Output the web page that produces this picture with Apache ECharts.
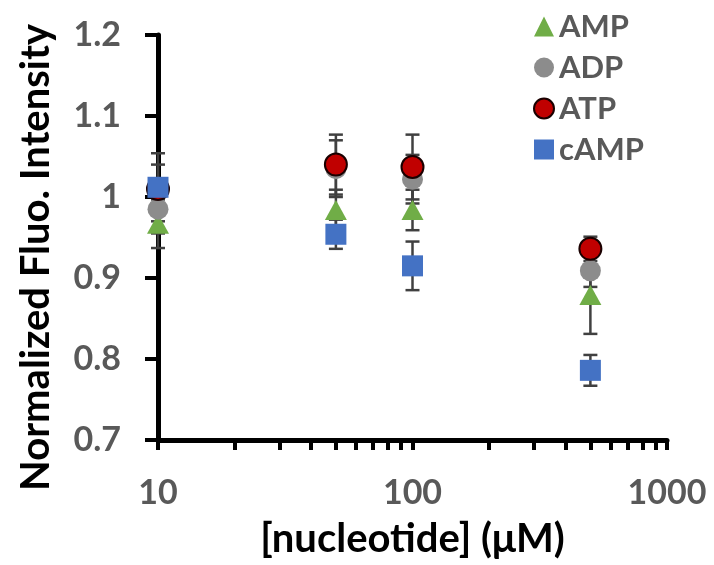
<!DOCTYPE html>
<html>
<head>
<meta charset="utf-8">
<script src="https://cdn.jsdelivr.net/npm/echarts@6/dist/echarts.min.js"></script>
<style>
html,body{margin:0;padding:0;background:#fff;}
#chart{width:714px;height:565px;}
</style>
</head>
<body>
<div id="chart"></div>
<script>
// 浓度 (μM)
var conc = [10, 50, 100, 500];
// 各核苷酸的归一化荧光强度
var ampVal  = [0.967, 0.984, 0.984, 0.879];
var ampErr  = [0.030, 0.025, 0.025, 0.048];
var adpVal  = [0.985, 1.035, 1.022, 0.909];
var adpErr  = [0.030, 0.035, 0.030, 0.020];
var atpVal  = [1.010, 1.040, 1.037, 0.936];
var atpErr  = [0.030, 0.037, 0.040, 0.015];
var campVal = [1.012, 0.954, 0.915, 0.786];
var campErr = [0.042, 0.018, 0.030, 0.019];
var xTicks = [10,20,30,40,50,60,70,80,90,100,200,300,400,500,600,700,800,900,1000];
var xLabels = [10, 100, 1000];

var font = 'Lato';
var myChart = echarts.init(document.getElementById('chart'));

function pts(vals){
	var out=[];
	for(var i=0;i<conc.length;i++){ out.push([conc[i], vals[i]]); }
	return out;
}
function errData(vals, errs){
	var out=[];
	for(var i=0;i<conc.length;i++){ out.push([conc[i], vals[i]-errs[i], vals[i]+errs[i]]); }
	return out;
}
// 误差棒
function errSeries(vals, errs){
	return {
		type:'custom',
		z:1,
		silent:true,
		data:errData(vals, errs),
		renderItem:function(params, api){
			var lo=api.coord([api.value(0), api.value(1)]);
			var hi=api.coord([api.value(0), api.value(2)]);
			var w=7;
			var st={stroke:'#404040', lineWidth:2.5};
			return {type:'group', children:[
				{type:'line', shape:{x1:lo[0],y1:lo[1],x2:hi[0],y2:hi[1]}, style:st},
				{type:'line', shape:{x1:lo[0]-w,y1:lo[1],x2:lo[0]+w,y2:lo[1]}, style:st},
				{type:'line', shape:{x1:hi[0]-w,y1:hi[1],x2:hi[0]+w,y2:hi[1]}, style:st}
			]};
		}
	};
}

var option = {
	animation:false,
	backgroundColor:'#fff',
	grid:{left:158, right:47, top:35, bottom:125},
	legend:{
		orient:'vertical',
		left:528, top:6,
		itemWidth:20, itemHeight:20,
		itemGap:10,
		textStyle:{fontFamily:font, fontWeight:'bold', fontSize:31, lineHeight:31, color:'#595959'},
		data:['AMP','ADP','ATP','cAMP']
	},
	xAxis:{
		type:'log', logBase:10, min:10, max:1000,
		name:'[nucleotide] (μM)', nameLocation:'middle', nameGap:79,
		nameTextStyle:{fontFamily:font, fontWeight:'bold', fontSize:40, color:'#000'},
		axisLine:{lineStyle:{color:'#000', width:5}},
		axisTick:{show:true, inside:false, length:10, lineStyle:{color:'#000', width:4}, customValues:xTicks},
		axisLabel:{fontFamily:font, fontWeight:'bold', fontSize:34, color:'#595959', margin:36, customValues:xLabels,
			formatter:function(v){ return String(Math.round(v)); }},
		splitLine:{show:false},
		minorTick:{show:false}
	},
	yAxis:{
		type:'value', min:0.7, max:1.2, interval:0.1,
		name:'Normalized Fluo. Intensity', nameLocation:'middle', nameGap:102,
		nameTextStyle:{fontFamily:font, fontWeight:'bold', fontSize:40, color:'#000', padding:[0,40,0,0]},
		axisLine:{show:true, lineStyle:{color:'#000', width:5}},
		axisTick:{show:true, inside:false, length:13, lineStyle:{color:'#000', width:4}},
		axisLabel:{fontFamily:font, fontWeight:'bold', fontSize:34, color:'#595959', margin:37},
		splitLine:{show:false}
	},
	series:[
		errSeries(ampVal, ampErr),
		errSeries(adpVal, adpErr),
		errSeries(atpVal, atpErr),
		errSeries(campVal, campErr),
		{name:'AMP', type:'scatter', z:3, symbol:'triangle', symbolSize:[22,20],
			itemStyle:{color:'#70AD47', opacity:1}, data:pts(ampVal)},
		{name:'ADP', type:'scatter', z:3, symbol:'circle', symbolSize:21,
			itemStyle:{color:'#8C8C8C', opacity:1}, data:pts(adpVal)},
		{name:'ATP', type:'scatter', z:4, symbol:'circle', symbolSize:22,
			itemStyle:{color:'#C00000', borderColor:'#1a0000', borderWidth:2, opacity:1}, data:pts(atpVal)},
		{name:'cAMP', type:'scatter', z:5, symbol:'rect', symbolSize:21,
			itemStyle:{color:'#4472C4', opacity:1}, data:pts(campVal)}
	]
};
myChart.setOption(option);
</script>
</body>
</html>
